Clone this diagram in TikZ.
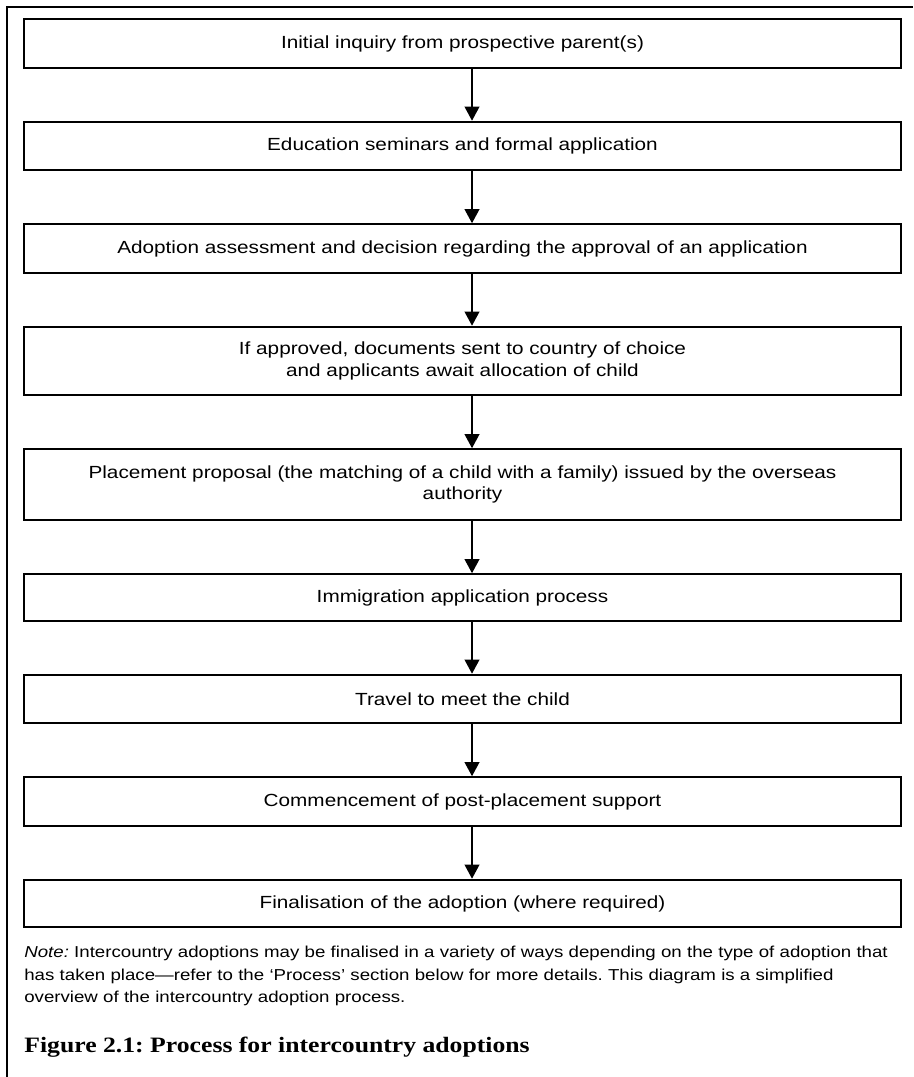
\documentclass[tikz,border=0pt]{standalone}
\usepackage{fontspec}
\setmainfont[FakeStretch=1.18]{Liberation Sans}
\newfontfamily\capfont[FakeStretch=1.17]{Liberation Serif}
\usetikzlibrary{arrows.meta, positioning}
\definecolor{fblack}{RGB}{0,0,0}
\frenchspacing

\begin{document}
\begin{tikzpicture}[x=0.02cm,y=-0.02cm,font=\fontsize{10}{12}\selectfont,
    stepbox/.style={draw=fblack,line width=1.15pt,minimum width=17.54cm,
      minimum height=0.97cm,align=center,inner sep=2pt},
    flow/.style={-{Triangle[length=0.28cm,width=0.29cm]},line width=1.15pt},
    node distance=1.04cm]
  \useasboundingbox (0,0) rectangle (913,1077);
  % frame: top and left only
  \draw[line width=1.2pt] (7,1077) -- (7,7) -- (913,7);
  % arrows run a little right of the box centres
  \coordinate (axis) at (472,0);

  \node[stepbox] (inq) at (462.5,43.5) {Initial inquiry from prospective parent(s)};
  \node[stepbox,below=of inq] (sem) {Education seminars and formal application};
  \node[stepbox,below=of sem] (ass) {Adoption assessment and decision regarding the approval of an application};
  \node[stepbox,below=of ass,minimum height=1.37cm] (doc)
    {If approved, documents sent to country of choice\\ and applicants await allocation of child};
  \node[stepbox,below=of doc,minimum height=1.42cm] (prop)
    {Placement proposal (the matching of a child with a family) issued by the overseas\\authority};
  \node[stepbox,below=of prop,minimum height=0.93cm] (imm) {Immigration application process};
  \node[stepbox,below=of imm] (trav) {Travel to meet the child};
  \node[stepbox,below=of trav] (supp) {Commencement of post-placement support};
  \node[stepbox,below=of supp,minimum height=0.95cm] (fin) {Finalisation of the adoption (where required)};

  \foreach \a/\b in {inq/sem,sem/ass,ass/doc,doc/prop,prop/imm,imm/trav,trav/supp,supp/fin}
    \draw[flow] (\a.south -| axis) -- (\b.north -| axis);

  \node[anchor=north west,text width=17.6cm,align=left,inner sep=0pt,
        font=\fontsize{9}{12.7}\selectfont] (note) at (24,946)
    {\textit{Note:} Intercountry adoptions may be finalised in a variety of ways depending on the type of adoption that\\
     has taken place---refer to the `Process' section below for more details. This diagram is a simplified\\
     overview of the intercountry adoption process.};

  \node[anchor=west,inner sep=0pt,font=\capfont\bfseries\fontsize{12.5}{15}\selectfont] (cap) at (24,1047)
    {Figure 2.1: Process for intercountry adoptions};
\end{tikzpicture}
\end{document}
